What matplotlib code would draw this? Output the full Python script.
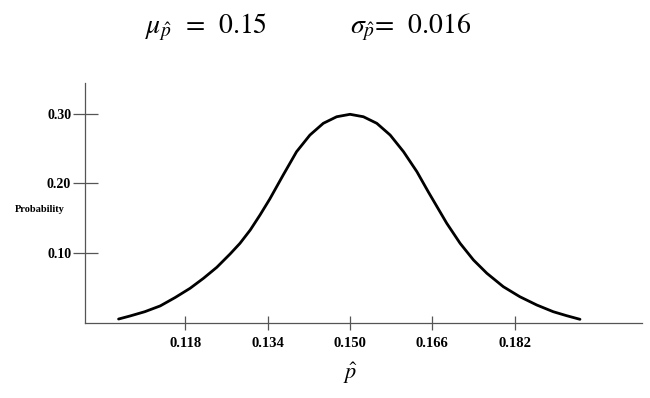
import numpy as np
import matplotlib
matplotlib.use("Agg")
import matplotlib.pyplot as plt

plt.rcParams['mathtext.fontset'] = 'stix'

# sampling distribution of p-hat
p_hat = [0.1050, 0.1072, 0.1101, 0.1131, 0.1160, 0.1189, 0.1215, 0.1241,
         0.1267, 0.1286, 0.1306, 0.1325, 0.1344, 0.1370, 0.1396, 0.1422,
         0.1448, 0.1474, 0.1500, 0.1526, 0.1552, 0.1578, 0.1604, 0.1630,
         0.1652, 0.1688, 0.1714, 0.1740, 0.1766, 0.1798, 0.1830,
         0.1863, 0.1895, 0.1921, 0.1947]
prob = [0.0057, 0.0100, 0.0162, 0.0245, 0.0365, 0.0497, 0.0640, 0.0798,
        0.0990, 0.1141, 0.1332, 0.1547, 0.1776, 0.2119, 0.2453, 0.2692,
        0.2860, 0.2954, 0.2989, 0.2954, 0.2860, 0.2692, 0.2453, 0.2167,
        0.1880, 0.1428, 0.1141, 0.0902, 0.0712, 0.0520, 0.0377,
        0.0258, 0.0162, 0.0105, 0.0053]

x_ticks = [0.118, 0.134, 0.150, 0.166, 0.182]
y_ticks = [0.10, 0.20, 0.30]
y_labels = ["0.10", "0.20", "0.30"]

fig = plt.figure(figsize=(6.5, 3.98), dpi=100)
ax = fig.add_axes([0.1308, 0.1884, 0.8570, 0.603])

ax.plot(p_hat, prob, color="black", linewidth=2.0,
        solid_capstyle="round", solid_joinstyle="round")

ax.set_xlim(0.09848, 0.20677)
ax.set_ylim(0, 0.3437)

for s in ["top", "right"]:
    ax.spines[s].set_visible(False)
for s in ["left", "bottom"]:
    ax.spines[s].set_color("#555555")
    ax.spines[s].set_linewidth(0.9)

ax.set_xticks(x_ticks)
ax.set_xticklabels([f"{v:.3f}" for v in x_ticks])
ax.set_yticks(y_ticks)
ax.set_yticklabels(y_labels)
ax.tick_params(axis="x", direction="inout", length=10, width=0.9,
               color="#555555", pad=5)
ax.tick_params(axis="y", direction="inout", length=18, width=0.9,
               color="#555555", pad=1)
for lab in ax.get_xticklabels():
    lab.set_fontfamily("Liberation Serif")
    lab.set_fontweight("bold")
    lab.set_fontsize(10.5)
for lab in ax.get_yticklabels():
    lab.set_fontfamily("Liberation Serif")
    lab.set_fontweight("bold")
    lab.set_fontsize(10)

fig.text(350 / 650, 1 - 373 / 398, r"$\hat{p}$", fontsize=16,
         ha="center", va="center")

fig.text(15 / 650, 1 - 210 / 398, "Probability", fontfamily="Liberation Serif",
         fontweight="bold", fontsize=7.5, ha="left", va="center")

fig.text(145 / 650, 1 - 33 / 398, r"$\mu_{\hat{p}}$  =  0.15",
         fontfamily="STIXGeneral", fontsize=20, ha="left", va="baseline")
fig.text(350 / 650, 1 - 33 / 398, r"$\sigma_{\hat{p}}$=  0.016",
         fontfamily="STIXGeneral", fontsize=20, ha="left", va="baseline")

fig.savefig("out.png", dpi=100)
